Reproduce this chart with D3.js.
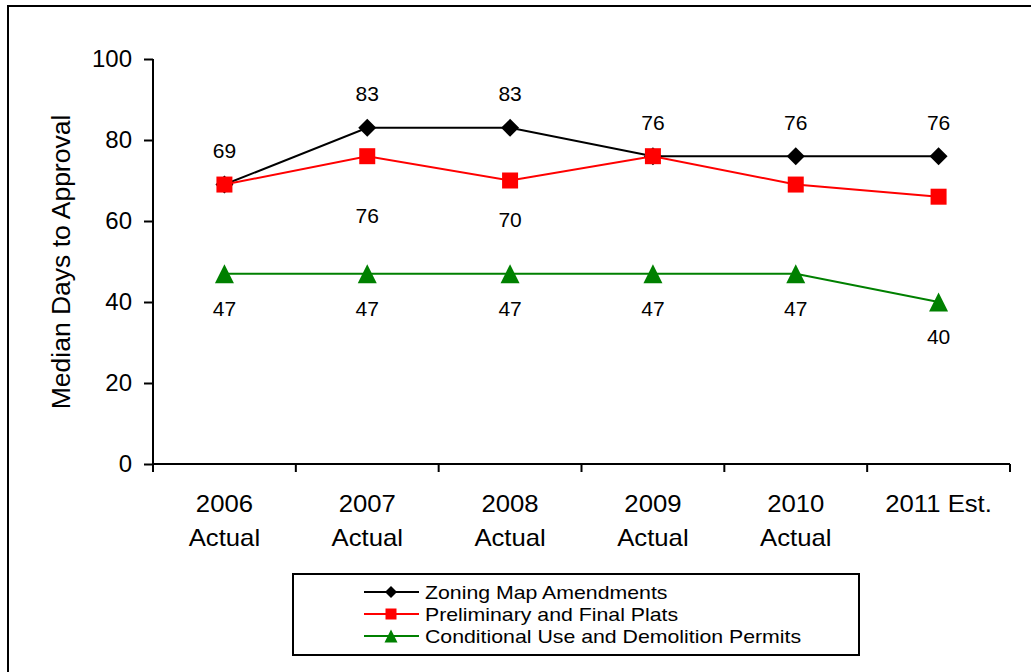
<!DOCTYPE html>
<html>
<head>
<meta charset="utf-8">
<script src="https://cdn.jsdelivr.net/npm/d3@7"></script>
<style>
  html, body { margin: 0; padding: 0; background: #fff; }
  svg { display: block; font-family: Arial, "Liberation Sans", sans-serif; }
</style>
</head>
<body>
<svg id="chart" width="1031" height="672"></svg>
<script>
const categories = [["2006", "Actual"], ["2007", "Actual"], ["2008", "Actual"], ["2009", "Actual"], ["2010", "Actual"], ["2011 Est."]];
const zoning = [69, 83, 83, 76, 76, 76];
const plats = [69, 76, 70, 76, 69, 66];
const permits = [47, 47, 47, 47, 47, 40];
const zoningLabels = ["69", "83", "83", "76", "76", "76"];
const platsLabels = [null, "76", "70", null, "69", "66"];
const permitsLabels = ["47", "47", "47", "47", "47", "40"];
const yTicks = [0, 20, 40, 60, 80, 100];
const seriesNames = ["Zoning Map Amendments", "Preliminary and Final Plats", "Conditional Use and Demolition Permits"];

(function () {
const svg = d3.select("#chart");
const FONT = "Arial, 'Liberation Sans', sans-serif";

function stretch(sel, f) {
  sel.each(function () {
    const w = this.getComputedTextLength();
    d3.select(this).attr("textLength", w * f).attr("lengthAdjust", "spacingAndGlyphs");
  });
}

// outer frame
svg.append("rect").attr("x", 8).attr("y", 6).attr("width", 1040).attr("height", 700)
  .attr("fill", "none").attr("stroke", "#000").attr("stroke-width", 2);

const pLeft = 153, pRight = 1010, pTop = 59, pBottom = 464;
const idx = categories.map((d, i) => i);
const x = d3.scaleBand().domain(idx).range([pLeft, pRight]).padding(0);
const cx = i => x(i) + x.bandwidth() / 2;
const y = d3.scaleLinear().domain([0, 100]).range([pBottom, pTop]);

// y axis
const yAxis = d3.axisLeft(y).tickValues(yTicks).tickSize(9).tickPadding(12).tickFormat(d3.format("d"));
const gy = svg.append("g").attr("transform", `translate(${pLeft},0)`).call(yAxis);
gy.select(".domain").attr("stroke", "#000").attr("stroke-width", 2).attr("d", `M0,${pTop}V${pBottom}`);
gy.selectAll(".tick line").attr("stroke", "#000").attr("stroke-width", 2);
gy.selectAll(".tick text").attr("font-size", 24).attr("fill", "#000").attr("font-family", FONT);

// x axis
svg.append("line").attr("x1", pLeft).attr("x2", pRight).attr("y1", pBottom).attr("y2", pBottom)
  .attr("stroke", "#000").attr("stroke-width", 2);
const bounds = idx.map(i => x(i)).concat([pRight]);
svg.append("g").selectAll("line").data(bounds).join("line")
  .attr("x1", d => d).attr("x2", d => d).attr("y1", pBottom).attr("y2", pBottom + 8)
  .attr("stroke", "#000").attr("stroke-width", 2);

const catLines = [];
categories.forEach((c, i) => c.forEach((t, j) => catLines.push({ i, j, t })));
const xl = svg.append("g").selectAll("text").data(catLines).join("text")
  .attr("x", d => cx(d.i)).attr("y", d => 512 + d.j * 34)
  .attr("text-anchor", "middle").attr("font-size", 24).attr("fill", "#000")
  .text(d => d.t);
stretch(xl, 1.07);

// y axis title
const yt = svg.append("text").attr("transform", `translate(70,262) rotate(-90)`)
  .attr("text-anchor", "middle").attr("font-size", 25).attr("fill", "#000")
  .text("Median Days to Approval");
stretch(yt, 1.06);

const line = d3.line().x((d, i) => cx(i)).y(d => y(d));

const diamond = (r) => `M0,${-r}L${r},0L0,${r}L${-r},0Z`;
const square = (r) => `M${-r},${-r}H${r}V${r}H${-r}Z`;
const triangle = (r) => `M0,${-r}L${r},${r}L${-r},${r}Z`;

const series = [
  { vals: zoning, labels: zoningLabels, color: "#000000", shape: diamond, r: 9, lr: 6, off: -34 },
  { vals: plats, labels: platsLabels, color: "#FF0000", shape: square, r: 8, lr: 5.5, off: 35 },
  { vals: permits, labels: permitsLabels, color: "#008000", shape: triangle, r: 9.5, lr: 6.5, off: 35 }
];

series.forEach(s => {
  svg.append("path").datum(s.vals).attr("d", line).attr("fill", "none")
    .attr("stroke", s.color).attr("stroke-width", 2);
});
series.forEach(s => {
  svg.append("g").selectAll("path").data(s.vals).join("path")
    .attr("transform", (d, i) => `translate(${cx(i)},${y(d)})`)
    .attr("d", s.shape(s.r))
    .attr("fill", s.color);
});
series.forEach(s => {
  svg.append("g").selectAll("text").data(s.vals).join("text")
    .filter((d, i) => s.labels[i] !== null)
    .attr("x", (d, i) => cx(i)).attr("y", (d, i) => y(d) + s.off)
    .attr("dy", "0.35em").attr("text-anchor", "middle")
    .attr("font-size", 21).attr("fill", "#000")
    .text((d, i) => s.labels[i]);
});

// legend
const lg = svg.append("g");
lg.append("rect").attr("x", 293).attr("y", 574).attr("width", 566).attr("height", 81)
  .attr("fill", "#fff").attr("stroke", "#000").attr("stroke-width", 2);
seriesNames.forEach((name, k) => {
  const s = series[k];
  const ly = 592 + k * 22;
  lg.append("line").attr("x1", 364).attr("x2", 419).attr("y1", ly).attr("y2", ly)
    .attr("stroke", s.color).attr("stroke-width", 2);
  lg.append("path").attr("transform", `translate(391,${ly})`)
    .attr("d", s.shape(s.lr)).attr("fill", s.color);
  const t = lg.append("text").attr("x", 425).attr("y", ly).attr("dy", "0.35em")
    .attr("font-size", 19).attr("fill", "#000").text(name);
  stretch(t, 1.12);
});
})();
</script>
</body>
</html>
